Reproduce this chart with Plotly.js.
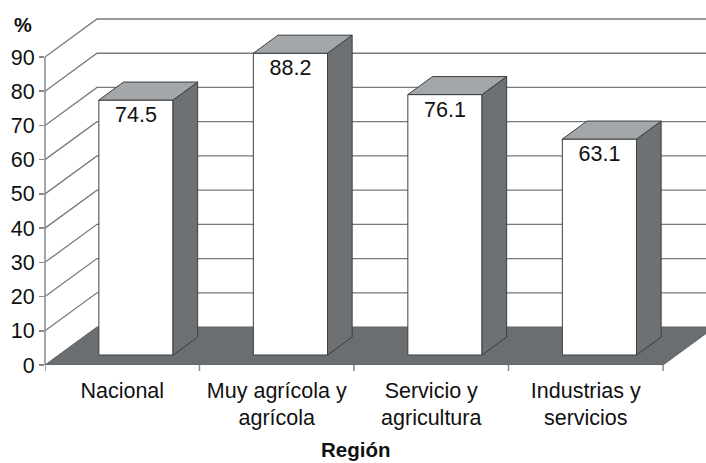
<!DOCTYPE html>
<html>
<head>
<meta charset="utf-8">
<script src="https://cdn.plot.ly/plotly-3.0.1.min.js"></script>
<style>html,body{margin:0;padding:0;background:#fff;}#chart{width:706px;height:463px;}</style>
</head>
<body>
<div id="chart"></div>
<script>
// ---- data ----
const categories = ["Nacional", "Muy agrícola y<br>agrícola", "Servicio y<br>agricultura", "Industrias y<br>servicios"];
const values = [74.5, 88.2, 76.1, 63.1];
const valueLabels = ["74.5", "88.2", "76.1", "63.1"];
const yTickValues = [0, 10, 20, 30, 40, 50, 60, 70, 80, 90];
const yAxisLabel = "%";
const xAxisTitle = "Región";

// ---- geometry (layout, not data) ----
const W = 706, H = 463;
const mL = 45, mR = 0, mT = 10, mB = 98;
const pxPerY = 3.422, pxPerCat = 154.5;
const plotW = W - mL - mR, plotH = H - mT - mB;
const xRange = [-0.5, -0.5 + plotW / pxPerCat];
const yRange = [0, plotH / pxPerY];
const DX = 52 / pxPerCat, DY = 38 / pxPerY;   // full depth offset of the 3D box
const d0 = 0.263, d1 = 0.737;                   // bar depth span
const barW = 0.48;
const nCat = categories.length;
const yMax = yTickValues[yTickValues.length - 1];

const FONT = "Liberation Sans, Arial, sans-serif";
const TXT = "#111111";
const GRID = "#767a7d";
const FLOOR = "#6a6e71";
const SIDE = "#6d7174";
const TOP = "#a4a7a9";
const EDGE = "#3b3e40";

const idx = categories.map((_, i) => i);
const xFront = idx.map(i => i + d0 * DX);
const base = idx.map(() => d0 * DY);
const ddx = (d1 - d0) * DX, ddy = (d1 - d0) * DY;

// side and top faces
const sideX = [], sideY = [], topX = [], topY = [];
idx.forEach(i => {
  const xl = xFront[i] - barW / 2, xr = xFront[i] + barW / 2;
  const b = base[i], t = base[i] + values[i];
  sideX.push(xr, xr + ddx, xr + ddx, xr, xr, null);
  sideY.push(b, b + ddy, t + ddy, t, b, null);
  topX.push(xl, xl + ddx, xr + ddx, xr, xl, null);
  topY.push(t, t + ddy, t + ddy, t, t, null);
});

const traces = [
  {
    type: "bar",
    x: xFront,
    y: values,
    base: base,
    width: barW,
    marker: {color: "#ffffff", line: {color: EDGE, width: 1}},
    text: valueLabels,
    textposition: "inside",
    insidetextanchor: "end",
    constraintext: "none",
    textangle: 0,
    textfont: {family: FONT, size: 21.5, color: TXT},
    hoverinfo: "skip",
    showlegend: false
  },
  {
    type: "scatter", mode: "lines",
    x: sideX, y: sideY, fill: "toself", fillcolor: SIDE,
    line: {color: EDGE, width: 1}, hoverinfo: "skip", showlegend: false
  },
  {
    type: "scatter", mode: "lines",
    x: topX, y: topY, fill: "toself", fillcolor: TOP,
    line: {color: EDGE, width: 1}, hoverinfo: "skip", showlegend: false
  }
];

const shapes = [];
// back wall / side wall gridlines
yTickValues.filter(v => v > 0).forEach(v => {
  shapes.push({
    type: "path", xref: "x", yref: "y", layer: "below",
    path: `M ${xRange[0]},${v} L ${xRange[0] + DX},${v + DY} L ${nCat - 0.5 + DX + 1},${v + DY}`,
    line: {color: GRID, width: 1.3}
  });
});
// floor
shapes.push({
  type: "path", xref: "x", yref: "y", layer: "below",
  path: `M ${xRange[0]},0 L ${nCat - 0.5},0 L ${nCat - 0.5 + DX},${DY} L ${xRange[0] + DX},${DY} Z`,
  fillcolor: FLOOR, line: {color: "#5f6366", width: 1}
});
// y axis line (0..max)
shapes.push({
  type: "line", xref: "paper", yref: "y", x0: 0, x1: 0, y0: 0, y1: yMax,
  line: {color: "#85898c", width: 1.5}, layer: "above"
});
// x boundary ticks
for (let k = 0; k <= nCat; k++) {
  shapes.push({
    type: "line", xref: "x", yref: "paper", x0: k - 0.5, x1: k - 0.5,
    y0: 0, y1: -6 / plotH, line: {color: "#85898c", width: 1.5}
  });
}

const layout = {
  width: W, height: H,
  margin: {l: mL, r: mR, t: mT, b: mB, pad: 0},
  paper_bgcolor: "#ffffff", plot_bgcolor: "#ffffff",
  font: {family: FONT, color: TXT, size: 21},
  showlegend: false,
  bargap: 0,
  xaxis: {
    range: xRange, showgrid: false, zeroline: false, showline: false,
    tickmode: "array", tickvals: idx, ticktext: categories,
    ticks: "", tickfont: {family: FONT, size: 21.5, color: TXT},
    ticklabelstandoff: 10, fixedrange: true
  },
  yaxis: {
    range: yRange, showgrid: false, zeroline: false, showline: false,
    tickmode: "array", tickvals: yTickValues, ticktext: yTickValues.map(String),
    ticks: "outside", ticklen: 5, tickwidth: 1.5, tickcolor: "#85898c",
    tickfont: {family: FONT, size: 21.5, color: TXT}, fixedrange: true
  },
  shapes: shapes,
  annotations: [
    {text: "<b>" + yAxisLabel + "</b>", xref: "paper", yref: "paper",
     x: (23 - mL) / plotW, y: (H - mB - 25) / plotH, xanchor: "center", yanchor: "middle",
     showarrow: false, font: {family: FONT, size: 20, color: TXT}},
    {text: "<b>" + xAxisTitle + "</b>", xref: "paper", yref: "paper",
     x: (355 - mL) / plotW, y: -(450 - (H - mB)) / plotH, xanchor: "center", yanchor: "middle",
     showarrow: false, font: {family: FONT, size: 20.5, color: TXT}}
  ]
};

Plotly.newPlot("chart", traces, layout, {displayModeBar: false, staticPlot: true});
</script>
</body>
</html>
